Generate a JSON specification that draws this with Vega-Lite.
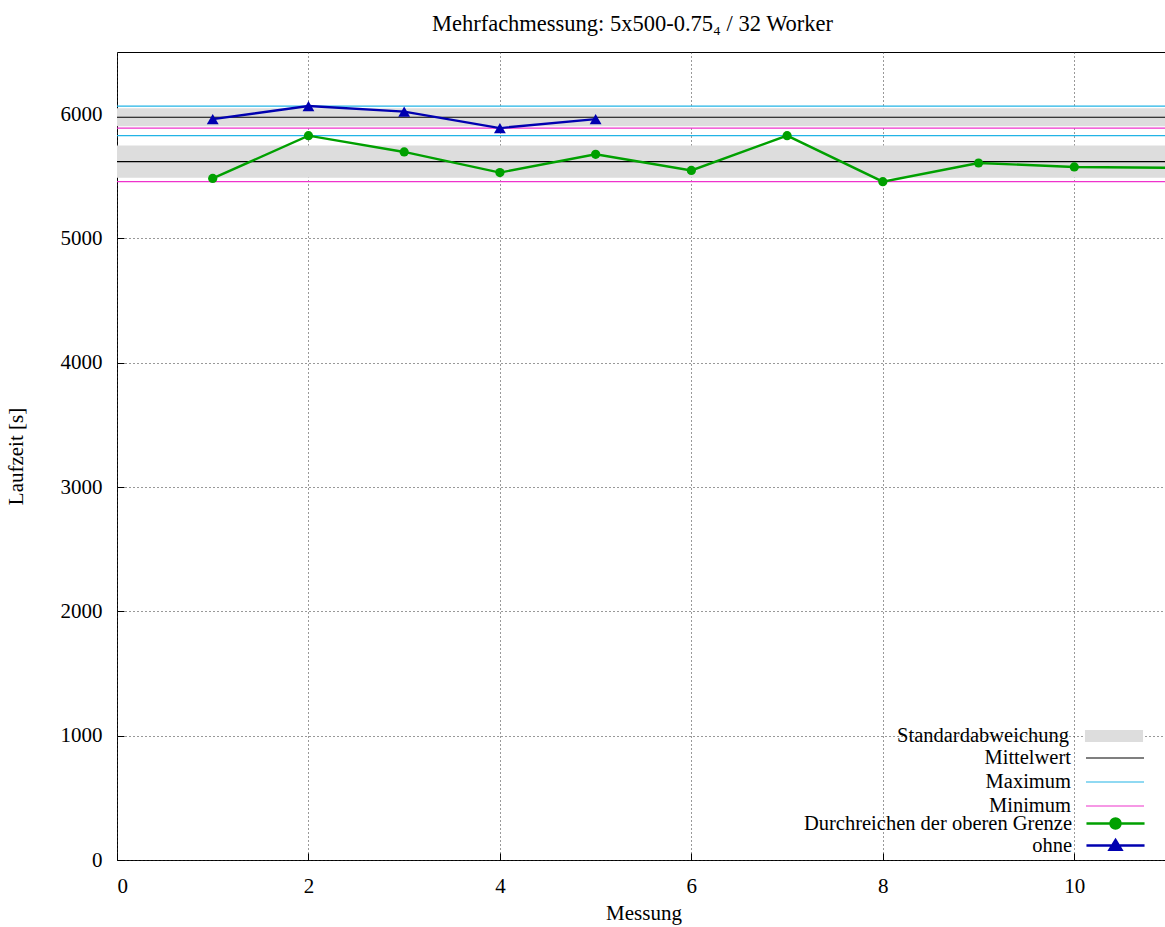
{
  "$schema": "https://vega.github.io/schema/vega-lite/v6.json",
  "width": 1053,
  "height": 808,
  "autosize": {"type": "none"},
  "padding": {"left": 117, "top": 52, "right": 0, "bottom": 67},
  "background": "white",
  "title": {
    "text": "Mehrfachmessung: 5x500-0.75₄ / 32 Worker",
    "font": "Liberation Serif, DejaVu Serif, serif",
    "fontSize": 22.5,
    "fontWeight": "normal",
    "color": "black",
    "offset": 17,
    "dx": -11
  },
  "config": {
    "view": {"stroke": "black", "strokeWidth": 1},
    "axis": {
      "domain": false,
      "grid": true,
      "gridDash": [1, 3],
      "gridColor": "#333333",
      "gridOpacity": 1,
      "tickColor": "black",
      "labelFont": "Liberation Serif",
      "labelFontSize": 21,
      "labelColor": "black",
      "titleFont": "Liberation Serif",
      "titleFontSize": 21,
      "titleFontWeight": "normal",
      "titleColor": "black",
      "format": "d"
    },
    "axisX": {"tickSize": -7, "labelPadding": 22, "titlePadding": 6},
    "axisY": {"tickSize": -7, "labelPadding": 22, "titlePadding": 34},
    "legend": {
      "title": null,
      "orient": "none",
      "padding": 0,
      "fillColor": "white",
      "symbolSize": 576,
      "rowPadding": -3.4,
      "labelFont": "Liberation Serif",
      "labelFontSize": 20.5,
      "labelColor": "black",
      "labelAlign": "right",
      "labelOffset": -57,
      "labelLimit": 500,
      "symbolOpacity": 1
    }
  },
  "datasets": {
    "mess": [
      {"series": "Durchreichen der oberen Grenze", "x": 1, "y": 5483},
      {"series": "Durchreichen der oberen Grenze", "x": 2, "y": 5827},
      {"series": "Durchreichen der oberen Grenze", "x": 3, "y": 5696},
      {"series": "Durchreichen der oberen Grenze", "x": 4, "y": 5530},
      {"series": "Durchreichen der oberen Grenze", "x": 5, "y": 5677},
      {"series": "Durchreichen der oberen Grenze", "x": 6, "y": 5547},
      {"series": "Durchreichen der oberen Grenze", "x": 7, "y": 5827},
      {"series": "Durchreichen der oberen Grenze", "x": 8, "y": 5457},
      {"series": "Durchreichen der oberen Grenze", "x": 9, "y": 5607},
      {"series": "Durchreichen der oberen Grenze", "x": 10, "y": 5575},
      {"series": "Durchreichen der oberen Grenze", "x": 11, "y": 5568},
      {"series": "ohne", "x": 1, "y": 5960},
      {"series": "ohne", "x": 2, "y": 6065},
      {"series": "ohne", "x": 3, "y": 6020},
      {"series": "ohne", "x": 4, "y": 5888},
      {"series": "ohne", "x": 5, "y": 5960}
    ],
    "bands": [
      {"series": "Standardabweichung", "lo": 5902, "hi": 6048},
      {"series": "Standardabweichung", "lo": 5489, "hi": 5748}
    ],
    "lines": [
      {"series": "Mittelwert", "v": 5975},
      {"series": "Mittelwert", "v": 5618},
      {"series": "Maximum", "v": 6065},
      {"series": "Maximum", "v": 5827},
      {"series": "Minimum", "v": 5888},
      {"series": "Minimum", "v": 5457}
    ]
  },
  "resolve": {"scale": {"color": "independent"}, "legend": {"color": "independent"}},
  "layer": [
    {
      "data": {"name": "bands"},
      "mark": {"type": "rect", "opacity": 1},
      "encoding": {
        "y": {"field": "lo", "type": "quantitative", "scale": {"domain": [0, 6500], "nice": false}, "axis": {"title": "Laufzeit [s]", "values": [0, 1000, 2000, 3000, 4000, 5000, 6000]}},
        "y2": {"field": "hi"},
        "color": {
          "field": "series",
          "type": "nominal",
          "scale": {"domain": ["Standardabweichung"], "range": ["#dddddd"]},
          "legend": {"legendX": 985, "legendY": 672, "symbolType": "M-2.42,-0.5H2.42V0.5H-2.42Z", "symbolStrokeWidth": 0, "symbolFillColor": "#dddddd"}
        }
      }
    },
    {
      "data": {"name": "lines"},
      "mark": {"type": "rule", "strokeWidth": 1.2},
      "encoding": {
        "y": {"field": "v", "type": "quantitative", "scale": {"domain": [0, 6500], "nice": false}, "axis": {"title": "Laufzeit [s]", "values": [0, 1000, 2000, 3000, 4000, 5000, 6000]}},
        "color": {
          "field": "series",
          "type": "nominal",
          "scale": {"domain": ["Mittelwert", "Maximum", "Minimum"], "range": ["#000000", "#22b4e6", "#ee33cc"]},
          "legend": {"legendX": 985, "legendY": 693, "symbolType": "M-2.42,0H2.42", "symbolStrokeWidth": 1.2}
        }
      }
    },
    {
      "data": {"name": "mess"},
      "transform": [{"filter": "datum.series === 'Durchreichen der oberen Grenze'"}],
      "layer": [
        {
          "mark": {"type": "line", "strokeWidth": 2.4},
          "encoding": {
            "x": {"field": "x", "type": "quantitative", "scale": {"domain": [0, 11], "nice": false}, "axis": {"title": "Messung", "values": [0, 2, 4, 6, 8, 10]}},
            "y": {"field": "y", "type": "quantitative", "scale": {"domain": [0, 6500], "nice": false}, "axis": {"title": "Laufzeit [s]", "values": [0, 1000, 2000, 3000, 4000, 5000, 6000]}},
            "color": {
              "field": "series",
              "type": "nominal",
              "scale": {"domain": ["Durchreichen der oberen Grenze"], "range": ["#00a000"]},
              "legend": {"legendX": 985, "legendY": 758, "symbolType": "M-2.42,0H2.42M0.42,0A0.42,0.42 0 1,1 -0.42,0A0.42,0.42 0 1,1 0.42,0Z", "symbolStrokeWidth": 2.4, "symbolFillColor": "#00a000"}
            }
          }
        },
        {
          "mark": {"type": "point", "filled": true, "opacity": 1, "shape": "circle", "size": 85, "color": "#00a000"},
          "encoding": {
            "x": {"field": "x", "type": "quantitative"},
            "y": {"field": "y", "type": "quantitative"}
          }
        }
      ]
    },
    {
      "data": {"name": "mess"},
      "transform": [{"filter": "datum.series === 'ohne'"}],
      "layer": [
        {
          "mark": {"type": "line", "strokeWidth": 2.4},
          "encoding": {
            "x": {"field": "x", "type": "quantitative", "scale": {"domain": [0, 11], "nice": false}, "axis": {"title": "Messung", "values": [0, 2, 4, 6, 8, 10]}},
            "y": {"field": "y", "type": "quantitative", "scale": {"domain": [0, 6500], "nice": false}, "axis": {"title": "Laufzeit [s]", "values": [0, 1000, 2000, 3000, 4000, 5000, 6000]}},
            "color": {
              "field": "series",
              "type": "nominal",
              "scale": {"domain": ["ohne"], "range": ["#0000b0"]},
              "legend": {"legendX": 985, "legendY": 780, "symbolType": "M-2.42,0H2.42M0,-0.46L0.5,0.36L-0.5,0.36Z", "symbolStrokeWidth": 2.4, "symbolFillColor": "#0000b0"}
            }
          }
        },
        {
          "mark": {"type": "point", "filled": true, "opacity": 1, "shape": "triangle-up", "size": 140, "color": "#0000b0"},
          "encoding": {
            "x": {"field": "x", "type": "quantitative"},
            "y": {"field": "y", "type": "quantitative"}
          }
        }
      ]
    }
  ]
}
